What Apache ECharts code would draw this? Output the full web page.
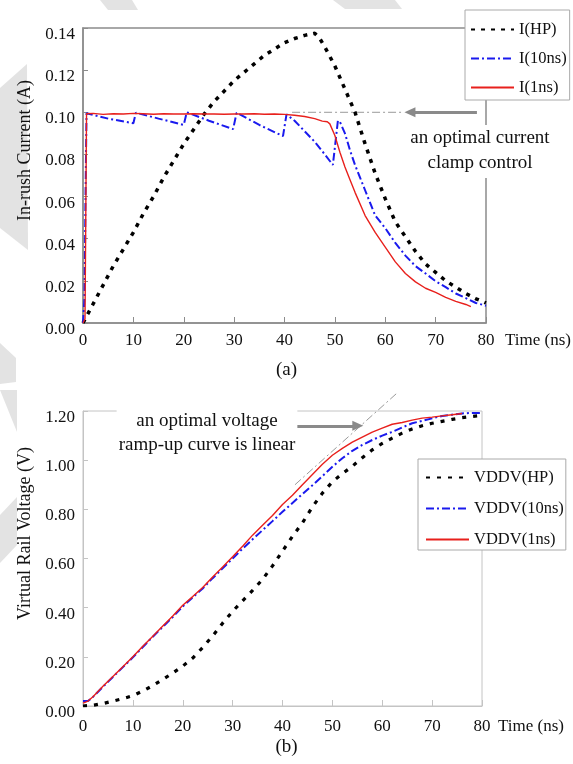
<!DOCTYPE html>
<html><head><meta charset="utf-8">
<script src="https://cdn.jsdelivr.net/npm/echarts/dist/echarts.min.js"></script>
<style>html,body{margin:0;padding:0;background:#fff}#c{width:573px;height:764px}</style>
</head><body><div id="c"></div>
<script>
// ---------- data: chart (a) In-rush current ----------
const xTicks = [0, 10, 20, 30, 40, 50, 60, 70, 80];
const iHP_t = [0,2,4,6,8,10,12,14,16,18,20,22,24,26,28,30,32,34,36,38,40,42,44,46,47,48,50,52,54,56,58,60,62,64,66,68,70,72,74,76,78,80];
const iHP_v = [0,0.009,0.018,0.027,0.035,0.043,0.052,0.060,0.069,0.077,0.085,0.092,0.099,0.105,0.110,0.115,0.119,0.123,0.127,0.130,0.133,0.135,0.1365,0.1375,0.135,0.131,0.122,0.111,0.100,0.085,0.071,0.059,0.048,0.041,0.034,0.028,0.024,0.020,0.017,0.014,0.0115,0.0095];
const i10_t = [0,0.3,0.5,0.7,5,10,10.5,15,20,20.6,25,29.8,30.5,35,39.7,40.4,42,44,46,48,49.6,50.6,51,52,53,54,55,56,57,58,60,62,64,66,68,70,72,74,76,78,80];
const i10_v = [0,0.012,0.06,0.0995,0.097,0.0948,0.0998,0.097,0.094,0.1,0.096,0.092,0.0998,0.094,0.0887,0.099,0.096,0.091,0.086,0.080,0.075,0.096,0.0955,0.09,0.082,0.075,0.069,0.063,0.057,0.051,0.045,0.038,0.032,0.027,0.0235,0.0198,0.017,0.014,0.0118,0.0095,0.0082];
const i1_t = [0,0.4,0.7,2,4,6,8,10,12,14,16,18,20,22,24,26,28,30,32,34,36,38,40,42,44,46,47.5,48.5,49,50,51,52,53,54,56,58,60,62,64,66,68,70,72,74,76,77];
const i1_v = [0,0.002,0.0993,0.0995,0.099,0.0993,0.0992,0.0995,0.0993,0.0991,0.0993,0.0992,0.0992,0.0993,0.0992,0.0992,0.0991,0.0992,0.0992,0.0993,0.0991,0.0992,0.0990,0.0986,0.0980,0.0970,0.0958,0.0955,0.0945,0.089,0.081,0.074,0.068,0.062,0.051,0.043,0.036,0.029,0.0235,0.0195,0.0165,0.0145,0.0122,0.0103,0.0088,0.0078];
const clampRef_t = [41.5, 63.3];
const clampRef_v = [0.1, 0.1];
const clampArrow_t = [78.2, 64.9];
const clampArrow_v = 0.1;
const yTicksA = [0, 0.02, 0.04, 0.06, 0.08, 0.10, 0.12, 0.14];

// ---------- data: chart (b) virtual rail voltage ----------
const vHP_t = [0,2,4,6,8,10,12,14,16,18,20,22,24,26,28,30,32,34,36,38,40,42,44,46,48,50,52,54,56,58,60,62,64,66,68,70,72,74,76,78,80];
const vHP_v = [0,0.003,0.01,0.02,0.03,0.042,0.061,0.083,0.108,0.134,0.162,0.195,0.238,0.285,0.337,0.385,0.428,0.47,0.515,0.57,0.63,0.69,0.745,0.81,0.866,0.912,0.945,0.975,1.01,1.042,1.068,1.09,1.11,1.127,1.14,1.15,1.158,1.166,1.173,1.178,1.182];
const v10_t = [0,1,2,4,6,8,10,12,14,16,18,20,22,24,26,28,30,32,34,36,38,40,42,44,46,48,50,52,54,56,58,60,62,64,66,68,70,72,74,76,78,80];
const v10_v = [0.02,0.02,0.037,0.078,0.118,0.158,0.198,0.24,0.282,0.322,0.362,0.405,0.442,0.478,0.52,0.56,0.6,0.64,0.678,0.715,0.752,0.79,0.826,0.862,0.898,0.935,0.973,1.008,1.038,1.062,1.082,1.1,1.115,1.133,1.15,1.16,1.17,1.18,1.185,1.19,1.192,1.192];
const v1_t = [0,1,2,4,6,8,10,12,14,16,18,20,22,24,26,28,30,32,34,36,38,40,42,44,46,48,50,52,54,56,58,60,62,64,66,68,70,72,74,76];
const v1_v = [0.012,0.02,0.038,0.08,0.12,0.16,0.2,0.243,0.284,0.325,0.366,0.41,0.445,0.482,0.525,0.565,0.607,0.65,0.695,0.735,0.775,0.82,0.857,0.9,0.942,0.983,1.02,1.048,1.073,1.094,1.114,1.13,1.146,1.153,1.163,1.171,1.175,1.18,1.185,1.19];
const rampRef_t = [42.5, 62.8];
const rampRef_v = [0.9, 1.27];
const rampArrow_t = [42.9, 55.1];
const rampArrow_v = 1.14;
const yTicksB = [0, 0.2, 0.4, 0.6, 0.8, 1.0, 1.2];

// ---------- helpers / styles ----------
const zip = (a, b) => a.map((x, i) => [x, b[i]]);
const FF = '"Liberation Serif", "Times New Roman", serif';
const TXT = '#111';
const BLACK = '#000', BLUE = '#1a1aee', RED = '#e8201c';
const GA = '#8c8c8c', GB = '#c4c4c4';

function xAxisCfg(gi, color, width, gap, pad, margin) {
  return {
    gridIndex: gi, type: 'value', min: xTicks[0], max: xTicks[xTicks.length - 1], interval: xTicks[1] - xTicks[0],
    name: 'Time (ns)', nameLocation: 'end', nameGap: gap,
    nameTextStyle: { fontFamily: FF, fontSize: 17, color: TXT, verticalAlign: 'top', padding: [pad, 0, 0, 0] },
    axisLine: { show: true, onZero: false, lineStyle: { color: color, width: width } },
    axisTick: { show: true, inside: true, length: 6, lineStyle: { color: color, width: 1 } },
    axisLabel: { fontFamily: FF, fontSize: 17, color: TXT, margin: margin },
    splitLine: { show: false }
  };
}
function yAxisCfg(gi, ticks, name, color, width) {
  return {
    gridIndex: gi, type: 'value', min: ticks[0], max: ticks[ticks.length - 1], interval: ticks[1] - ticks[0],
    name: name, nameLocation: 'middle', nameGap: 47,
    nameTextStyle: { fontFamily: FF, fontSize: 18, color: TXT, padding: [0, 0, 0, 50] },
    axisLine: { show: true, onZero: false, lineStyle: { color: color, width: width } },
    axisTick: { show: true, inside: true, length: 5, lineStyle: { color: color, width: 1 } },
    axisLabel: { fontFamily: FF, fontSize: 17, color: TXT, margin: 8, verticalAlign: 'top', lineHeight: 13,
                 formatter: v => v.toFixed(2) },
    splitLine: { show: false }
  };
}
function lineSeries(name, gi, data, color, width, dash, z) {
  return {
    name: name, type: 'line', xAxisIndex: gi, yAxisIndex: gi, data: data,
    symbol: 'none', showSymbol: false, smooth: false, z: z, animation: false,
    lineStyle: { color: color, width: width, type: dash, cap: 'butt' },
    itemStyle: { color: color }
  };
}
function refSeries(gi, data, arrowFrom, arrowTo) {
  return {
    name: 'ref' + gi, type: 'line', xAxisIndex: gi, yAxisIndex: gi, data: data,
    symbol: 'none', showSymbol: false, clip: false, z: 1, animation: false,
    lineStyle: { color: '#9a9a9a', width: 1, type: [8, 3, 2, 3] },
    markLine: {
      silent: true, animation: false, symbol: ['none', 'triangle'], symbolSize: [10, 11],
      label: { show: false },
      lineStyle: { color: '#8a8a8a', width: 3, type: 'solid' },
      data: [[{ coord: arrowFrom }, { coord: arrowTo }]]
    }
  };
}
function legendCfg(names, left, top, gap, pad) {
  return {
    data: names, orient: 'vertical', left: left, top: top, itemWidth: 43, itemHeight: 18, itemGap: gap,
    padding: pad, backgroundColor: '#fff', borderColor: '#aaa', borderWidth: 1, borderRadius: 0,
    selectedMode: false,
    itemStyle: { color: 'rgba(0,0,0,0)', borderWidth: 0, opacity: 0 },
    textStyle: { fontFamily: FF, fontSize: 16.5, color: TXT }
  };
}

const wm = '#e3e3e3';
const watermark = [
  [[100,0],[132,0],[138,10],[108,10]],
  [[333,0],[395,0],[402,9],[345,9]],
  [[0,88],[27,64],[28,250],[0,228]],
  [[0,343],[16,358],[16,382],[0,384]],
  [[0,390],[17,390],[17,432]],
  [[0,515],[17,497],[17,545],[0,563]]
].map(p => ({ type: 'polygon', z: -10, silent: true, shape: { points: p }, style: { fill: wm } }));

const chart = echarts.init(document.getElementById('c'), null, { renderer: 'canvas' });
chart.setOption({
  backgroundColor: '#fff',
  animation: false,
  textStyle: { fontFamily: FF },
  title: [
    { text: '(a)', left: 'center', top: 361, padding: 0, textStyle: { fontFamily: FF, fontSize: 19, fontWeight: 'normal', color: TXT } },
    { text: '(b)', left: 'center', top: 738, padding: 0, textStyle: { fontFamily: FF, fontSize: 19, fontWeight: 'normal', color: TXT } }
  ],
  grid: [
    { left: 83, top: 28, width: 403, height: 295, show: true, borderColor: GA, borderWidth: 1.5, backgroundColor: 'transparent' },
    { left: 83, top: 411, width: 399, height: 295, show: true, borderColor: GB, borderWidth: 1, backgroundColor: 'transparent' }
  ],
  xAxis: [ xAxisCfg(0, GA, 1.5, 19, 9, 9), xAxisCfg(1, GB, 1, 16, 12, 12) ],
  yAxis: [ yAxisCfg(0, yTicksA, 'In-rush Current (A)', GA, 1.5), yAxisCfg(1, yTicksB, 'Virtual Rail Voltage (V)', GB, 1) ],
  legend: [
    legendCfg(['I(HP)', 'I(10ns)', 'I(1ns)'], 465, 10, 12, [11, 3, 4, 5]),
    legendCfg(['VDDV(HP)', 'VDDV(10ns)', 'VDDV(1ns)'], 418, 459, 14, [10, 2, 2, 7])
  ],
  series: [
    refSeries(0, zip(clampRef_t, clampRef_v), [clampArrow_t[0], clampArrow_v], [clampArrow_t[1], clampArrow_v]),
    lineSeries('I(HP)', 0, zip(iHP_t, iHP_v), BLACK, 3.5, [4, 6], 3),
    lineSeries('I(10ns)', 0, zip(i10_t, i10_v), BLUE, 2, [8, 3, 2, 3], 4),
    lineSeries('I(1ns)', 0, zip(i1_t, i1_v), RED, 1.4, 'solid', 5),
    refSeries(1, zip(rampRef_t, rampRef_v), [rampArrow_t[0], rampArrow_v], [rampArrow_t[1], rampArrow_v]),
    lineSeries('VDDV(HP)', 1, zip(vHP_t, vHP_v), BLACK, 3.2, [4, 7], 3),
    lineSeries('VDDV(10ns)', 1, zip(v10_t, v10_v), BLUE, 2, [8, 3, 2, 3], 4),
    lineSeries('VDDV(1ns)', 1, zip(v1_t, v1_v), RED, 1.4, 'solid', 5)
  ],
  graphic: watermark.concat([
    { type: 'text', z: 100, silent: true, x: 480, y: 125,
      style: { text: 'an optimal current\nclamp control', font: '19px ' + FF, fill: TXT, align: 'center', verticalAlign: 'top',
               lineHeight: 25, backgroundColor: '#fff', padding: [1, 3, 2, 3] } },
    { type: 'text', z: 100, silent: true, x: 207, y: 409,
      style: { text: 'an optimal voltage\nramp-up curve is linear', font: '19px ' + FF, fill: TXT, align: 'center', verticalAlign: 'top',
               lineHeight: 24, backgroundColor: '#fff', padding: [0, 2, 0, 2] } }
  ])
});
</script></body></html>
